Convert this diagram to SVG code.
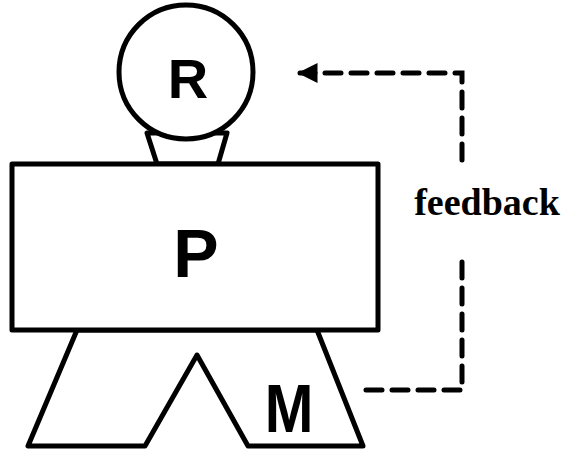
<svg xmlns="http://www.w3.org/2000/svg" width="566" height="452" viewBox="0 0 566 452">
<style>
.sh{fill:#fff;stroke:#000;stroke-width:5;stroke-linejoin:round}
.lbl{font-family:"Liberation Sans",Arial,sans-serif;font-weight:bold;text-anchor:middle;fill:#000}
.fb{fill:none;stroke:#000;stroke-width:5;stroke-dasharray:16 10;stroke-linecap:round}
</style>
<defs>
<marker id="ah" markerWidth="4" markerHeight="4" refX="3.5" refY="2" orient="auto" markerUnits="strokeWidth">
<path d="M0,0 L4,2 L0,4 z" fill="#000"/>
</marker>
</defs>
<g id="R">
<path class="sh" d="M147,133 L157,164 L218,164 L227,133 z"/>
<circle class="sh" cx="186" cy="72" r="67"/>
<text class="lbl" x="188" y="98" font-size="56">R</text>
</g>
<g id="M">
<path class="sh" d="M77,330 L28,446 L145,446 L197,355 L248,446 L363,446 L317,330 z"/>
<text class="lbl" transform="translate(289,432) scale(0.86,1)" x="0" y="0" font-size="68">M</text>
</g>
<g id="P">
<rect class="sh" x="12" y="164" width="366" height="166"/>
<text class="lbl" x="196" y="277" font-size="68">P</text>
</g>
<g id="connectors">
<polyline class="fb" points="462,160 462,73 300,73" marker-end="url(#ah)"/>
<polyline class="fb" points="462,262 462,390 366,390"/>
</g>
<text x="487" y="215" font-family="'Liberation Serif','Times New Roman',serif" font-weight="bold" font-size="38" text-anchor="middle">feedback</text>
</svg>
